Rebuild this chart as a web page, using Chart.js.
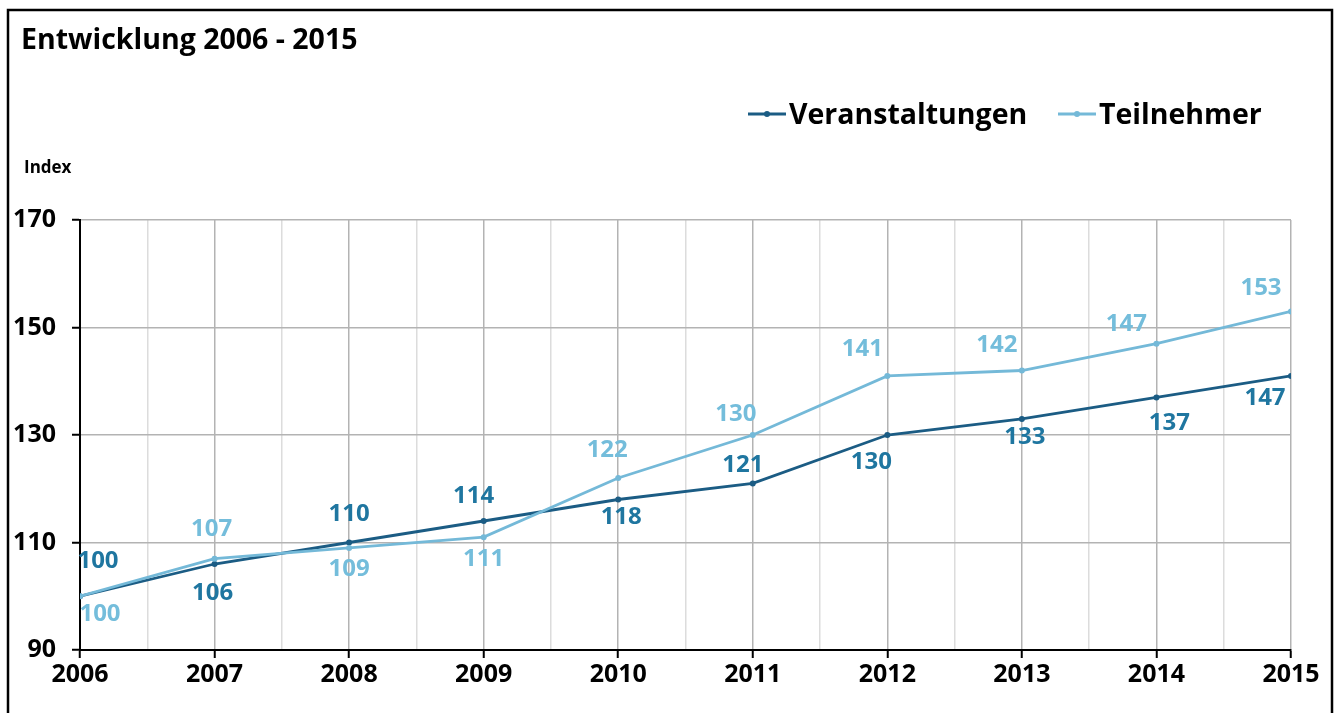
<!DOCTYPE html>
<html><head><meta charset="utf-8">
<script src="https://cdn.jsdelivr.net/npm/chart.js@4.4.1/dist/chart.umd.min.js"></script>
<style>html,body{margin:0;padding:0;background:#fff}canvas{display:block}</style>
</head><body>
<canvas id="c" width="1337" height="713"></canvas>
<script>
// ---- data ----
const years = [2006, 2007, 2008, 2009, 2010, 2011, 2012, 2013, 2014, 2015];
const veranstaltungen = [100, 106, 110, 114, 118, 121, 130, 133, 137, 141];
const teilnehmer = [100, 107, 109, 111, 122, 130, 141, 142, 147, 153];
const veranstaltungenLabels = ['100', '106', '110', '114', '118', '121', '130', '133', '137', '147'];
const teilnehmerLabels = ['100', '107', '109', '111', '122', '130', '141', '142', '147', '153'];
const yTickValues = [90, 110, 130, 150, 170];
const seriesNames = ['Veranstaltungen', 'Teilnehmer'];
const chartTitle = 'Entwicklung 2006 - 2015';
const yAxisTitle = 'Index';

// ---- styles ----
const FONT = '"Open Sans", Lato, sans-serif';
const colV = '#1b5c84', colT = '#74b9d8';
const labColV = '#1f76a0', labColT = '#74bddb';
// label offsets relative to the point pixel [dx, dy]
const offV = [[18,-35],[-2,29],[0,-28],[-10,-25],[3,18],[-10,-18],[-16,27],[3,18],[13,26],[-26,22]];
const offT = [[20,18],[-3,-29],[0,21],[0,22],[-11,-28],[-17,-21],[-25,-27],[-25,-25],[-30,-19],[-30,-23]];

const labelsPlugin = {
  id: 'labelsPlugin',
  beforeDraw(chart) {
    const c = chart.ctx;
    c.save(); c.fillStyle = '#fff'; c.fillRect(0, 0, chart.width, chart.height); c.restore();
  },
  afterDatasetsDraw(chart) {
    const c = chart.ctx;
    c.save();
    c.font = 'bold 24px ' + FONT;
    c.textAlign = 'center'; c.textBaseline = 'middle';
    const sets = [[0, veranstaltungenLabels, offV, labColV], [1, teilnehmerLabels, offT, labColT]];
    sets.forEach(([di, labs, offs, col]) => {
      const meta = chart.getDatasetMeta(di);
      c.fillStyle = col;
      meta.data.forEach((pt, i) => {
        c.fillText(labs[i], pt.x + offs[i][0], pt.y + offs[i][1]);
      });
    });
    c.restore();
  },
  afterDraw(chart) {
    const c = chart.ctx;
    c.save();
    // frame
    c.strokeStyle = '#000'; c.lineWidth = 2.5;
    c.strokeRect(8, 10, 1324, 720);
    // title
    c.fillStyle = '#000';
    c.textAlign = 'left'; c.textBaseline = 'alphabetic';
    c.font = 'bold 28.5px ' + FONT;
    c.fillText(chartTitle, 21, 49);
    c.font = 'bold 17px ' + FONT;
    c.fillText(yAxisTitle, 24, 173);
    // legend
    const items = [[colV, 748, seriesNames[0]], [colT, 1058, seriesNames[1]]];
    c.font = 'bold 28.5px ' + FONT;
    c.textBaseline = 'middle';
    items.forEach(([col, x, name]) => {
      c.strokeStyle = col; c.lineWidth = 3;
      c.beginPath(); c.moveTo(x, 114); c.lineTo(x + 38, 114); c.stroke();
      c.fillStyle = col; c.beginPath(); c.arc(x + 19, 114, 3, 0, Math.PI * 2); c.fill();
      c.fillStyle = '#000';
      c.fillText(name, x + 41, 116);
    });
    c.restore();
  }
};

const toPoints = arr => years.map((y, i) => ({ x: y, y: arr[i] }));

new Chart(document.getElementById('c'), {
  type: 'line',
  data: {
    datasets: [
      { label: seriesNames[0], data: toPoints(veranstaltungen), borderColor: colV, backgroundColor: colV,
        borderWidth: 2.8, pointRadius: 3, pointBorderWidth: 0, tension: 0, order: 1 },
      { label: seriesNames[1], data: toPoints(teilnehmer), borderColor: colT, backgroundColor: colT,
        borderWidth: 2.8, pointRadius: 3, pointBorderWidth: 0, tension: 0, order: 0 }
    ]
  },
  options: {
    responsive: false,
    animation: false,
    layout: { padding: { left: 0, right: 46, top: 220, bottom: 0 } },
    plugins: { legend: { display: false }, title: { display: false }, tooltip: { enabled: false } },
    scales: {
      x: {
        type: 'linear', min: years[0], max: years[years.length - 1],
        afterFit: s => { s.height = 63; },
        afterBuildTicks: s => {
          const t = [];
          for (let i = 0; i < years.length; i++) {
            t.push({ value: years[i] });
            if (i < years.length - 1) t.push({ value: years[i] + 0.5 });
          }
          s.ticks = t;
        },
        ticks: {
          autoSkip: false, maxRotation: 0, minRotation: 0, padding: 2, color: '#000',
          font: { family: FONT, size: 25, weight: 'bold' },
          callback: v => (years.includes(v) ? String(v) : '')
        },
        grid: {
          color: ctx => (Number.isInteger(ctx.tick && ctx.tick.value) ? '#b3b3b3' : '#dcdcdc'),
          tickColor: ctx => (Number.isInteger(ctx.tick && ctx.tick.value) ? '#000' : 'rgba(0,0,0,0)'),
          lineWidth: 1.5, tickLength: 8, tickWidth: 2
        },
        border: { color: '#000', width: 2 }
      },
      y: {
        min: yTickValues[0], max: yTickValues[yTickValues.length - 1],
        afterFit: s => { s.width = 80; },
        afterBuildTicks: s => { s.ticks = yTickValues.map(v => ({ value: v })); },
        ticks: {
          padding: 16, color: '#000',
          font: { family: FONT, size: 25, weight: 'bold' }
        },
        grid: { color: '#b3b3b3', tickColor: '#000', lineWidth: 1.5, tickLength: 8, tickWidth: 2 },
        border: { color: '#000', width: 2 }
      }
    }
  },
  plugins: [labelsPlugin]
});
</script>
</body></html>
